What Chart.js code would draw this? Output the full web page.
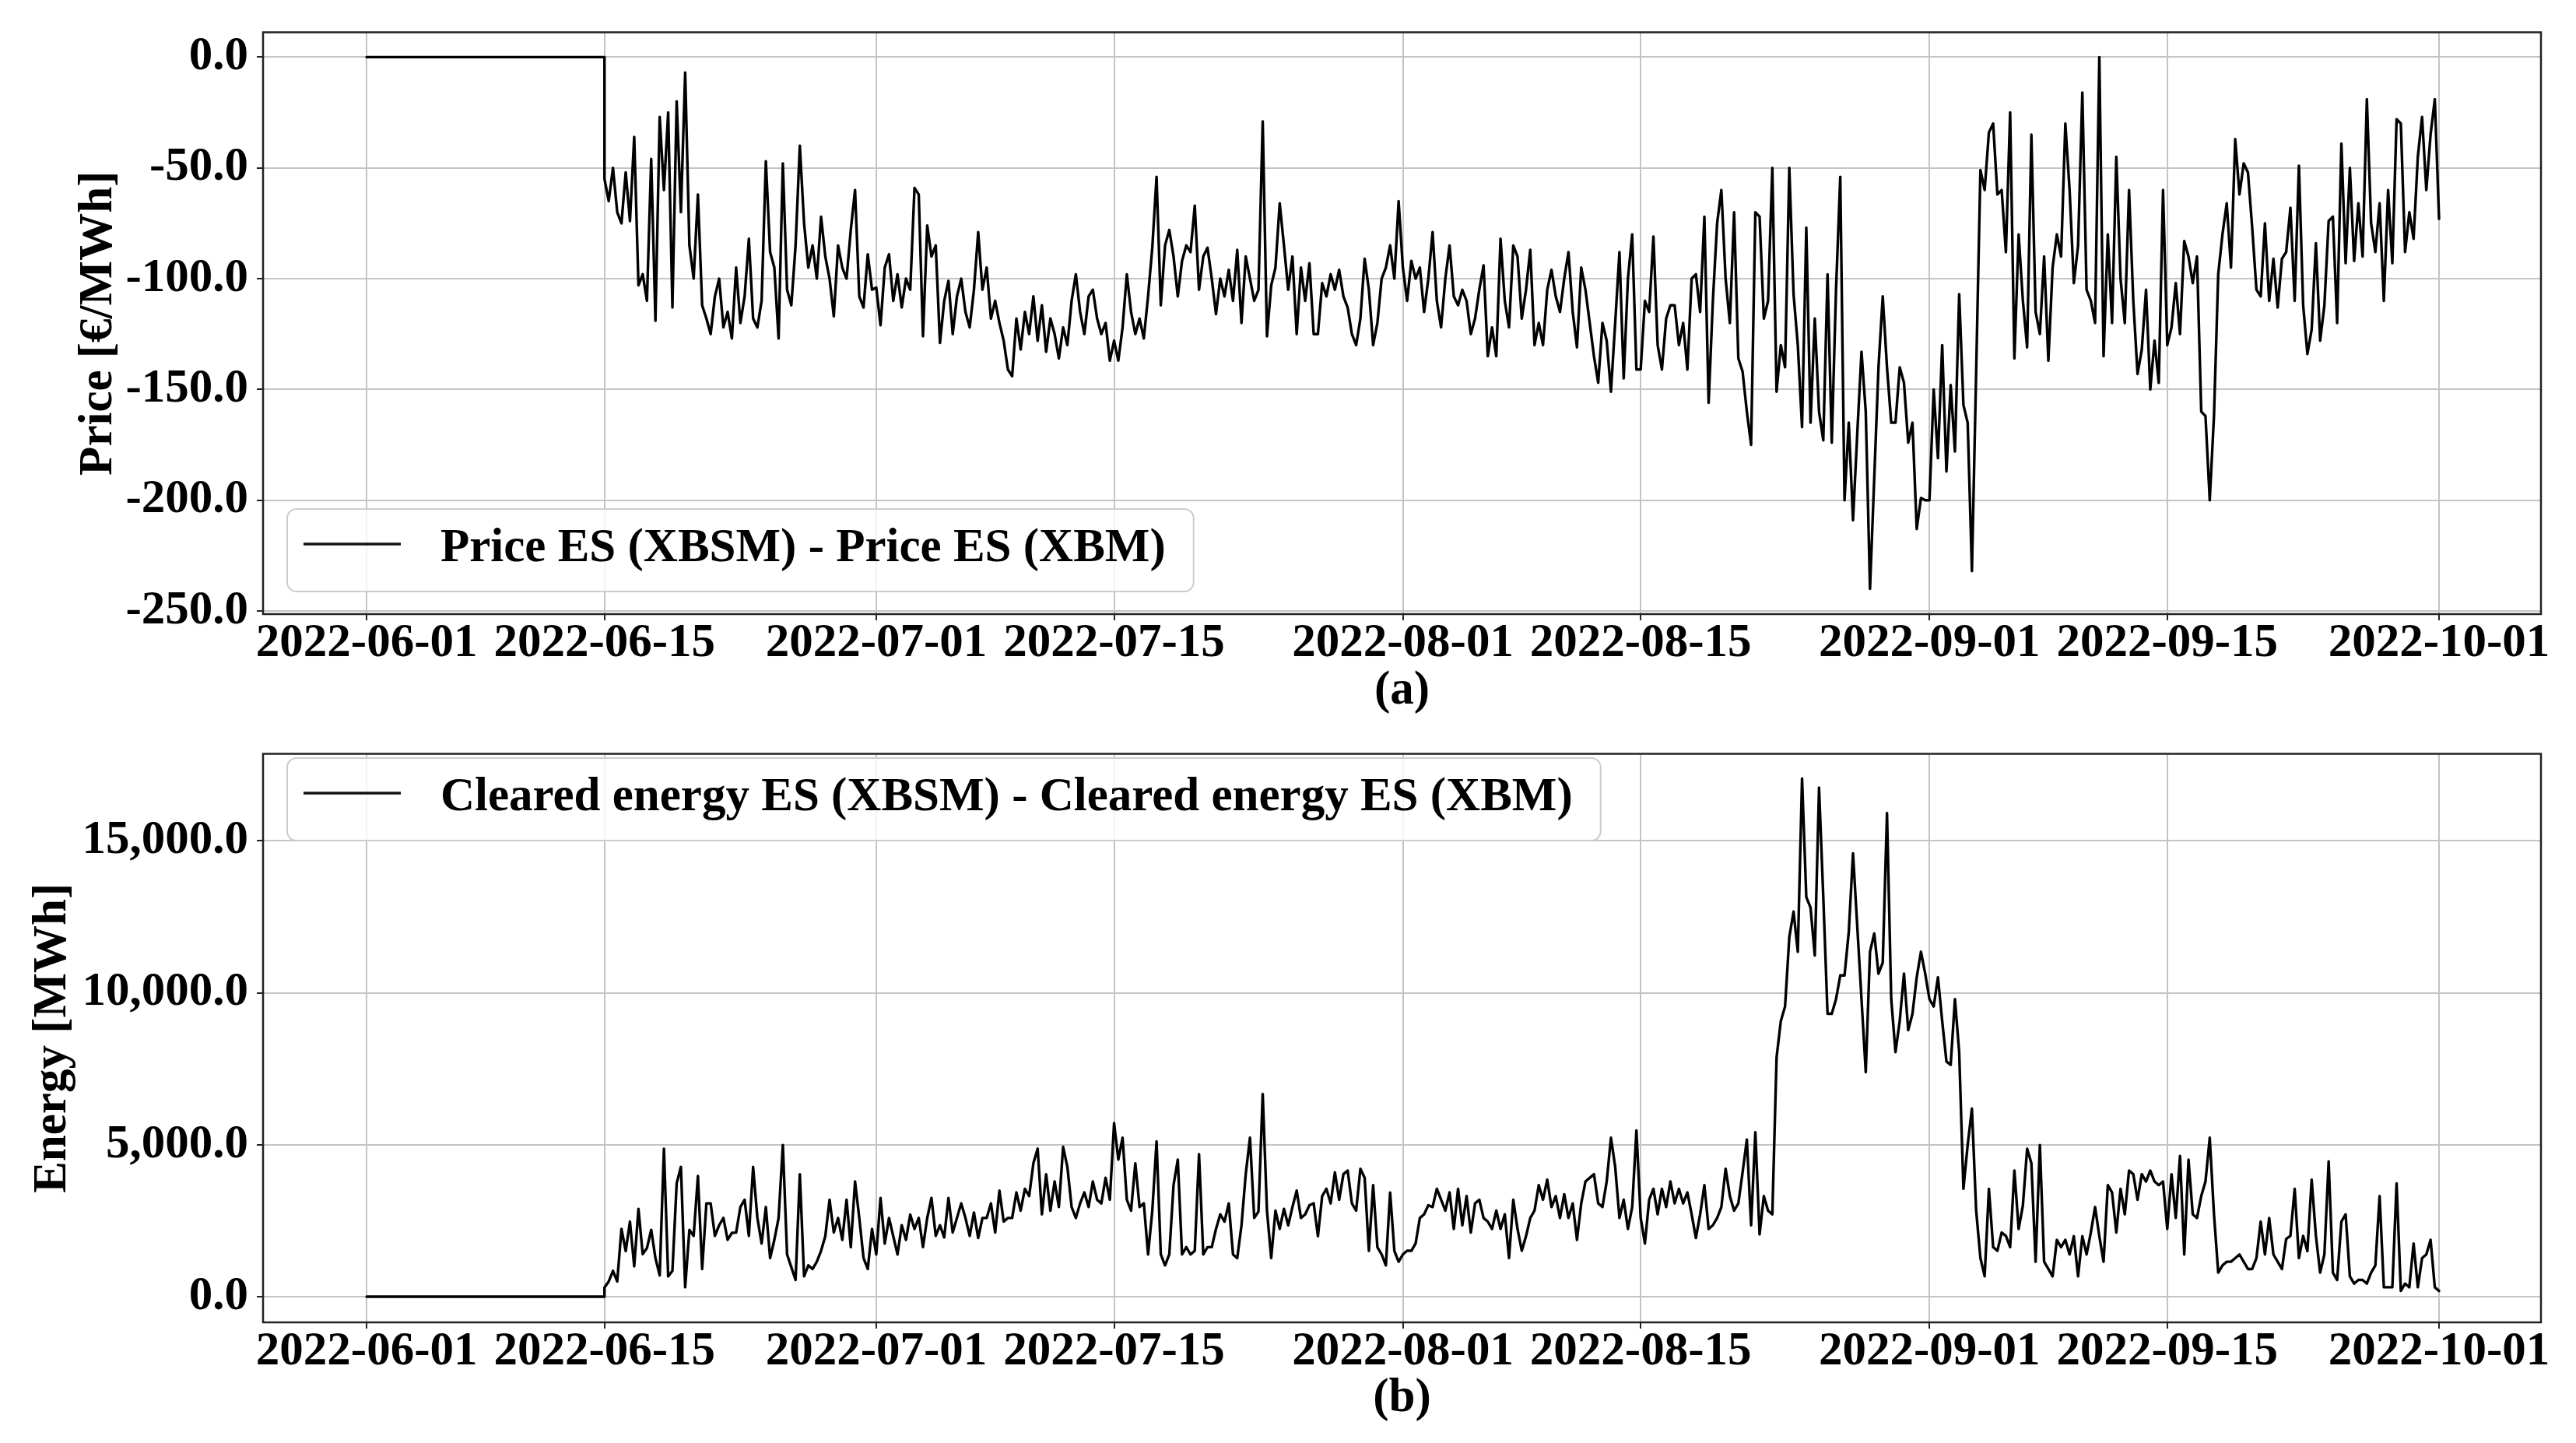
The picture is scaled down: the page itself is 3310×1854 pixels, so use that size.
<!DOCTYPE html>
<html>
<head>
<meta charset="utf-8">
<script src="https://cdn.jsdelivr.net/npm/chart.js@4.4.1/dist/chart.umd.min.js"></script>
<style>
  html,body{margin:0;padding:0;background:#fff;}
  #wrap{position:relative;width:3310px;height:1854px;background:#fff;}
  canvas{position:absolute;left:0;width:3310px;height:927px;}
</style>
</head>
<body>
<div id="wrap">
  <canvas id="priceChart" width="3310" height="927" style="top:0"></canvas>
  <canvas id="energyChart" width="3310" height="927" style="top:927px"></canvas>
</div>
<script>
// x axis: days counted from 2022-06-01 00:00
const tickDays = [0, 14, 30, 44, 61, 75, 92, 106, 122];
const tickLabels = ['2022-06-01','2022-06-15','2022-07-01','2022-07-15','2022-08-01','2022-08-15','2022-09-01','2022-09-15','2022-10-01'];
const priceTicks = [-250, -200, -150, -100, -50, 0];
const energyTicks = [0, 5000, 10000, 15000];

// nothing cleared before 06-15
const leadDays = [0, 14];
const leadPrice = [0, 0];
const leadEnergy = [0, 0];

// 6-hourly samples from 2022-06-15 00:00 to 2022-10-01 00:00
const startDay = 14;
const stepDays = 0.25;

// Price ES (XBSM) - Price ES (XBM)  [€/MWh]
const priceDiff = [
  -55,-65,-50,-70, -75,-52,-74,-36, -103,-98,-110,-46, -119,-27,-60,-25,
  -113,-20,-70,-7, -85,-100,-62,-112, -118,-125,-108,-100, -122,-115,-127,-95,
  -120,-108,-82,-118, -122,-110,-47,-88, -95,-127,-48,-105, -112,-85,-40,-75,
  -95,-85,-100,-72, -90,-100,-117,-85, -95,-100,-78,-60, -108,-113,-89,-105,
  -104,-121,-95,-89, -110,-98,-113,-100, -105,-59,-62,-126, -76,-90,-85,-129,
  -110,-101,-125,-108, -100,-115,-122,-105, -79,-105,-95,-118, -110,-120,-128,-141,
  -144,-118,-132,-115, -125,-108,-128,-112, -133,-118,-125,-136, -122,-130,-110,-98,
  -115,-125,-108,-105, -118,-125,-120,-137, -128,-137,-122,-98, -115,-125,-118,-127,
  -108,-86,-54,-112, -85,-78,-90,-108, -92,-85,-88,-67, -105,-90,-86,-100,
  -116,-100,-108,-96, -110,-87,-120,-90, -100,-110,-105,-29, -126,-103,-95,-66,
  -85,-105,-90,-125, -95,-110,-93,-125, -125,-102,-108,-98, -105,-96,-108,-113,
  -125,-130,-118,-91, -105,-130,-120,-100, -95,-85,-100,-65, -95,-110,-92,-100,
  -95,-115,-100,-79, -110,-122,-100,-85, -108,-112,-105,-110, -125,-118,-105,-94,
  -135,-122,-135,-82, -110,-122,-85,-90, -118,-105,-87,-130, -120,-130,-105,-96,
  -108,-115,-100,-88, -115,-131,-95,-105, -120,-135,-147,-120, -128,-151,-120,-88,
  -145,-100,-80,-141, -141,-110,-115,-81, -130,-141,-118,-112, -112,-130,-120,-141,
  -100,-98,-115,-72, -156,-110,-75,-60, -100,-120,-70,-136, -142,-160,-175,-70,
  -72,-118,-110,-50, -151,-130,-140,-50, -107,-130,-167,-77, -165,-118,-160,-173,
  -98,-174,-105,-54, -200,-165,-209,-170, -133,-160,-240,-190, -140,-108,-140,-165,
  -165,-140,-147,-174, -165,-213,-199,-200, -200,-150,-181,-130, -187,-148,-178,-107,
  -157,-165,-232,-142, -51,-60,-34,-30, -62,-60,-88,-25, -136,-80,-110,-131,
  -35,-115,-125,-90, -137,-95,-80,-90, -30,-60,-102,-85, -16,-105,-110,-120,
  0,-135,-80,-120, -45,-100,-120,-60, -110,-143,-132,-105, -150,-128,-147,-60,
  -130,-122,-102,-125, -83,-90,-102,-90, -160,-162,-200,-162, -98,-80,-66,-95,
  -37,-62,-48,-52, -77,-105,-108,-75, -110,-91,-113,-91, -88,-68,-110,-49,
  -112,-134,-123,-84, -128,-112,-74,-72, -120,-39,-93,-50, -92,-66,-90,-19,
  -75,-88,-66,-110, -60,-93,-28,-30, -88,-70,-82,-45, -27,-60,-35,-19,
  -73
];

// Cleared energy ES (XBSM) - Cleared energy ES (XBM)  [MWh]
const energyDiff = [
  300,500,850,500, 2230,1500,2470,1000, 2890,1400,1600,2200, 1270,700,4870,670,
  850,3730,4270,310, 2200,2000,3970,910, 3070,3070,2000,2350, 2590,1870,2100,2110,
  2950,3190,2000,4270, 2600,1750,2950,1270, 1870,2590,4990,1390, 970,550,4030,670,
  1030,910,1150,1510, 1990,3190,2110,2590, 1870,3190,1630,3790, 2590,1270,910,2230,
  1390,3250,1750,2590, 1990,1390,2350,1870, 2700,2230,2590,1630, 2590,3250,2000,2350,
  1950,3250,2110,2590, 3070,2590,2000,2770, 1930,2590,2590,3070, 2110,3490,2470,2590,
  2590,3430,2830,3550, 3310,4390,4870,2710, 4030,2830,3790,2950, 4930,4270,2950,2590,
  3070,3430,2950,3790, 3190,3070,3910,3190, 5710,4510,5230,3190, 2830,4390,2950,3070,
  1390,2830,5110,1390, 1030,1390,3670,4510, 1390,1630,1390,1510, 4690,1390,1630,1630,
  2230,2710,2470,3070, 1390,1270,2350,4030, 5230,2590,2800,6670, 2830,1270,2830,2230,
  2890,2350,2950,3490, 2590,2710,3010,3070, 1990,3310,3550,3070, 4090,3190,4030,4150,
  3070,2830,4210,3910, 1510,3670,1630,1390, 1030,3430,1510,1150, 1390,1510,1510,1750,
  2590,2710,3010,2950, 3550,3190,2830,3430, 2230,3550,2350,3310, 2110,3070,3190,2590,
  2470,2230,2830,2230, 2710,1270,3190,2230, 1510,1990,2590,2830, 3670,3190,3850,2950,
  3310,2590,3370,2590, 3070,1870,3070,3790, 3910,4030,3070,2950, 3790,5230,4270,2590,
  3190,2230,2950,5470, 2590,1750,3190,3550, 2710,3550,2950,3790, 3070,3550,3070,3430,
  2710,1930,2710,3670, 2230,2350,2590,2950, 4210,3310,2830,3070, 4090,5170,2350,5410,
  2050,3310,2830,2710, 7870,9070,9550,11830, 12670,11350,17050,13150, 12800,11230,16750,13150,
  9310,9310,9790,10570, 10570,12000,14590,12190, 9790,7390,11350,11950, 10630,10990,15910,9790,
  8050,9070,10630,8770, 9310,10510,11350,10630, 9790,9550,10510,9070, 7740,7630,9790,8050,
  3550,4990,6190,2830, 1270,670,3550,1630, 1510,2110,2000,1630, 4150,2230,3000,4870,
  4390,1150,4990,1150, 910,670,1870,1630, 1870,1390,1990,670, 1990,1390,2110,2950,
  1990,1150,3670,3430, 2110,3550,2710,4150, 4030,3190,4030,3790, 4150,3790,3670,3790,
  2230,4030,2590,4630, 1390,4510,2710,2590, 3310,3790,5230,2710, 790,1030,1150,1150,
  1270,1390,1150,910, 910,1270,2470,1390, 2590,1390,1150,910, 1900,2000,3550,1270,
  2000,1500,3850,2000, 790,1390,4450,790, 550,2470,2710,670, 430,550,550,430,
  790,1030,3310,310, 310,310,3730,190, 430,310,1750,310, 1270,1390,1870,310,
  190
];

const FONT = "'Liberation Serif', 'Times New Roman', serif";
Chart.defaults.font.family = FONT;
Chart.defaults.color = '#000';

function toPoints(leadY, values) {
  const pts = leadDays.map((d, i) => ({x: d, y: leadY[i]}));
  values.forEach((v, i) => pts.push({x: startDay + i * stepDays, y: v}));
  return pts;
}

function fmt(v) {
  return v.toLocaleString('en-US', {minimumFractionDigits: 1, maximumFractionDigits: 1});
}

// matplotlib style box around the plot area
const framePlugin = {
  id: 'frame',
  afterDraw(chart) {
    const {ctx, chartArea: a} = chart;
    ctx.save();
    ctx.strokeStyle = '#222';
    ctx.lineWidth = 2.5;
    ctx.strokeRect(a.left, a.top, a.right - a.left, a.bottom - a.top);
    ctx.restore();
  }
};

// legend drawn inside the plot, like plt.legend()
const legendPlugin = {
  id: 'innerLegend',
  afterDraw(chart, args, o) {
    const ctx = chart.ctx;
    const text = chart.data.datasets[0].label;
    ctx.save();
    ctx.font = 'bold 61px ' + FONT;
    const w = 197 + ctx.measureText(text).width + 36;
    const h = 106, r = 12, x = o.x, y = o.y;
    ctx.beginPath();
    ctx.moveTo(x + r, y);
    ctx.arcTo(x + w, y, x + w, y + h, r);
    ctx.arcTo(x + w, y + h, x, y + h, r);
    ctx.arcTo(x, y + h, x, y, r);
    ctx.arcTo(x, y, x + w, y, r);
    ctx.closePath();
    ctx.fillStyle = 'rgba(255,255,255,0.8)';
    ctx.fill();
    ctx.strokeStyle = '#cccccc';
    ctx.lineWidth = 2;
    ctx.stroke();
    ctx.beginPath();
    ctx.moveTo(x + 21, y + 45);
    ctx.lineTo(x + 146, y + 45);
    ctx.strokeStyle = '#111';
    ctx.lineWidth = 3.5;
    ctx.stroke();
    ctx.fillStyle = '#000';
    ctx.textBaseline = 'alphabetic';
    ctx.textAlign = 'left';
    ctx.fillText(text, x + 197, y + 67);
    ctx.restore();
  }
};

function makeChart(id, points, c) {
  const tickFont = {size: 61, weight: 'bold', lineHeight: 1};
  const titleFont = {size: 61, weight: 'bold', lineHeight: 1.2};
  const grid = {color: '#c4c4c4', lineWidth: 2, tickLength: 8, tickColor: '#222', tickWidth: 2};
  return new Chart(document.getElementById(id), {
    type: 'line',
    data: {datasets: [{label: c.legend, data: points, borderColor: '#000', borderWidth: 3.4,
      borderJoinStyle: 'round', borderCapStyle: 'round',
      pointRadius: 0, tension: 0, fill: false}]},
    options: {
      responsive: false,
      animation: false,
      devicePixelRatio: 1,
      layout: {padding: {left: 0, right: 45, top: c.top, bottom: 0}},
      plugins: {legend: {display: false}, tooltip: {enabled: false}, innerLegend: c.box},
      scales: {
        x: {
          type: 'linear', min: -6.1, max: 128.0,
          afterBuildTicks: s => { s.ticks = tickDays.map(v => ({value: v})); },
          afterFit: s => { s.height = c.xHeight; },
          ticks: {autoSkip: false, maxRotation: 0, padding: 0, color: '#000', font: tickFont,
            callback: (v, i) => tickLabels[i]},
          grid: grid,
          border: {display: false},
          title: {display: true, text: c.sub, color: '#000', font: titleFont,
            padding: {top: 0, bottom: c.subPad}}
        },
        y: {
          type: 'linear', min: c.yMin, max: c.yMax,
          afterBuildTicks: s => { s.ticks = c.yTicks.map(v => ({value: v})); },
          afterFit: s => { s.width = 338; },
          ticks: {padding: 11, color: '#000', font: tickFont, callback: v => fmt(v)},
          grid: grid,
          border: {display: false},
          title: {display: true, text: c.yTitle, color: '#000', font: titleFont,
            padding: {top: c.yTitlePad, bottom: 0}}
        }
      }
    },
    plugins: [framePlugin, legendPlugin]
  });
}

makeChart('priceChart', toPoints(leadPrice, priceDiff), {
  legend: 'Price ES (XBSM) - Price ES (XBM)',
  yTitle: 'Price [€/MWh]', sub: '(a)',
  yMin: -251.4, yMax: 11.2, yTicks: priceTicks,
  top: 36, xHeight: 138, subPad: 2, yTitlePad: 91,
  box: {x: 369, y: 654}
});

makeChart('energyChart', toPoints(leadEnergy, energyDiff), {
  legend: 'Cleared energy ES (XBSM) - Cleared energy ES (XBM)',
  yTitle: 'Energy [MWh]', sub: '(b)',
  yMin: -845, yMax: 17864, yTicks: energyTicks,
  top: 17, xHeight: 155, subPad: 20, yTitlePad: 32,
  box: {x: 369, y: 47}
});
</script>
</body>
</html>
